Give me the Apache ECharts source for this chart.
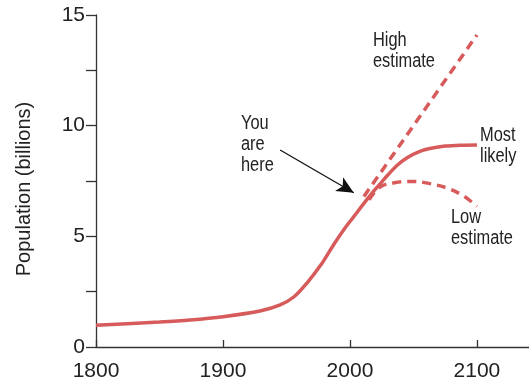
<!DOCTYPE html>
<html>
<head>
<meta charset="utf-8">
<script src="https://cdn.jsdelivr.net/npm/echarts@6/dist/echarts.min.js"></script>
<style>
html,body{margin:0;padding:0;background:#fff;}
#chart{width:529px;height:384px;}
</style>
</head>
<body>
<div id="chart"></div>
<script>
// Data
var mostLikelyYears = [1800, 1850, 1874, 1900, 1930, 1945, 1956, 1966, 1977, 1987, 1995, 2003, 2011, 2019, 2025, 2030, 2037, 2045, 2055, 2064, 2075, 2087, 2100];
var mostLikelyValues = [0.98, 1.13, 1.22, 1.37, 1.64, 1.90, 2.27, 2.88, 3.7, 4.61, 5.29, 5.89, 6.49, 7.06, 7.45, 7.78, 8.2, 8.55, 8.84, 8.98, 9.08, 9.12, 9.13];
var highYears = [2011, 2100];
var highValues = [6.8, 14.1];
var lowYears = [2015, 2024, 2035, 2050, 2063, 2077, 2090, 2100];
var lowValues = [6.65, 7.24, 7.42, 7.48, 7.38, 7.17, 6.8, 6.35];
var xTicks = [1800, 1900, 2000, 2100];
var yTicks = [0, 5, 10, 15];
var arrowFrom = [1945, 8.9];
var arrowTo = [2003, 6.97];

function pairs(xs, ys) { return xs.map(function (x, i) { return [x, ys[i]]; }); }

var RED = '#d75b5b';
var FONT = '"Liberation Sans", Arial, sans-serif';
var NOTE_FONT = '20px ' + FONT;

function note(x, y, text) {
  return {type: 'text', x: x, y: y, scaleX: 0.82,
          style: {text: text, font: NOTE_FONT, lineHeight: 21, fill: '#222', textVerticalAlign: 'top'}};
}

var chart = echarts.init(document.getElementById('chart'), null, {renderer: 'canvas'});
chart.setOption({
  animation: false,
  backgroundColor: '#fff',
  grid: {left: 96, right: 0, top: 15, bottom: 37, containLabel: false},
  xAxis: {
    type: 'value', min: 1800, max: 2141, interval: 100,
    axisLine: {show: true, lineStyle: {color: '#333', width: 1.3}},
    axisTick: {show: true, inside: true, length: 7, lineStyle: {color: '#333', width: 1.3}},
    axisLabel: {
      color: '#222', fontFamily: FONT, fontSize: 21, margin: 14, showMaxLabel: false,
      formatter: function (v) { return xTicks.indexOf(v) >= 0 ? String(v) : ''; }
    },
    splitLine: {show: false}
  },
  yAxis: {
    type: 'value', min: 0, max: 15, interval: 2.5,
    axisLine: {show: true, lineStyle: {color: '#333', width: 1.3}},
    axisTick: {show: true, inside: false, length: 10, lineStyle: {color: '#333', width: 1.3}},
    axisLabel: {
      color: '#222', fontFamily: FONT, fontSize: 21, margin: 11,
      formatter: function (v) { return yTicks.indexOf(v) >= 0 ? String(v) : ''; }
    },
    splitLine: {show: false}
  },
  graphic: [
    {type: 'text', x: 24, y: 189, rotation: Math.PI / 2,
     style: {text: 'Population (billions)', font: '20px ' + FONT, fill: '#222', textAlign: 'center', textVerticalAlign: 'middle'}},
    note(373, 30, 'High\nestimate'),
    note(241, 113, 'You\nare\nhere'),
    note(480, 125, 'Most\nlikely'),
    note(451, 207, 'Low\nestimate')
  ],
  series: [
    {
      type: 'line', name: 'Most likely', data: pairs(mostLikelyYears, mostLikelyValues),
      smooth: 0.3, showSymbol: false, symbol: 'none',
      lineStyle: {color: RED, width: 3.5},
      markLine: {
        silent: true, symbol: ['none', 'arrow'], symbolSize: [12, 17],
        label: {show: false},
        lineStyle: {color: '#111', width: 1.3, type: 'solid'},
        data: [[{coord: arrowFrom}, {coord: arrowTo}]]
      }
    },
    {
      type: 'line', name: 'High estimate', data: pairs(highYears, highValues),
      showSymbol: false, symbol: 'none',
      lineStyle: {color: RED, width: 3.5, type: [9, 6]}
    },
    {
      type: 'line', name: 'Low estimate', data: pairs(lowYears, lowValues),
      smooth: 0.4, showSymbol: false, symbol: 'none',
      lineStyle: {color: RED, width: 3.5, type: [9, 6]}
    }
  ]
});
</script>
</body>
</html>
